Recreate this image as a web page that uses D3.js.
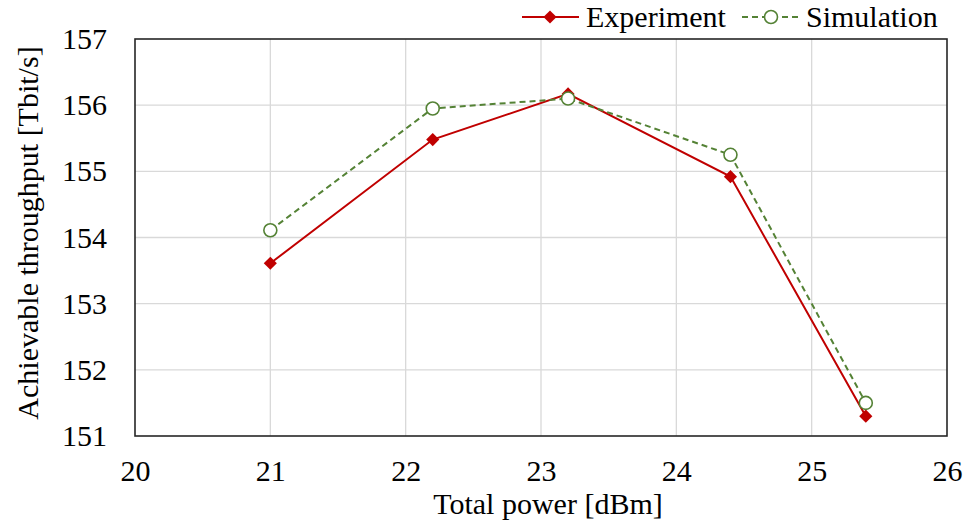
<!DOCTYPE html>
<html><head><meta charset="utf-8">
<script src="https://cdn.jsdelivr.net/npm/d3@7"></script>
<style>body{margin:0;background:#fff}svg{display:block}svg text{font-family:"Liberation Serif","Times New Roman",Times,serif !important;fill:#000}</style>
</head><body><svg id="c" width="964" height="524"></svg>
<script>
const power = [21, 22.2, 23.2, 24.4, 25.4];
const experiment = [153.61, 155.48, 156.17, 154.92, 151.30];
const simulation = [154.11, 155.95, 156.10, 155.25, 151.50];
const xTicks = [20, 21, 22, 23, 24, 25, 26];
const yTicks = [151, 152, 153, 154, 155, 156, 157];

const FS = 30;
const svg = d3.select("#c");
const L = 135, R = 947, T = 39, B = 436;
const x = d3.scaleLinear().domain([20, 26]).range([L, R]);
const y = d3.scaleLinear().domain([151, 157]).range([B, T]);

svg.append("g").selectAll("line").data(xTicks.slice(1, -1)).join("line")
  .attr("x1", d => x(d)).attr("x2", d => x(d)).attr("y1", T).attr("y2", B)
  .attr("stroke", "#d9d9d9").attr("stroke-width", 1.3);
svg.append("g").selectAll("line").data(yTicks.slice(1, -1)).join("line")
  .attr("y1", d => y(d)).attr("y2", d => y(d)).attr("x1", L).attr("x2", R)
  .attr("stroke", "#d9d9d9").attr("stroke-width", 1.3);

svg.append("rect").attr("x", L).attr("y", T).attr("width", R - L).attr("height", B - T)
  .attr("fill", "none").attr("stroke", "#262626").attr("stroke-width", 1.6);

const xAxis = d3.axisBottom(x).tickValues(xTicks).tickSize(0).tickPadding(24).tickFormat(d3.format("d"));
const gx = svg.append("g").attr("transform", `translate(0,${B})`).call(xAxis);
gx.select(".domain").remove();
gx.attr("font-size", FS);
gx.selectAll("text").style("font-size", FS + "px");
const yAxis = d3.axisLeft(y).tickValues(yTicks).tickSize(0).tickPadding(28).tickFormat(d3.format("d"));
const gy = svg.append("g").attr("transform", `translate(${L},0)`).call(yAxis);
gy.select(".domain").remove();
gy.attr("font-size", FS);
gy.selectAll("text").style("font-size", FS + "px");

svg.append("text").attr("x", 548).attr("y", 514).attr("text-anchor", "middle")
  .style("font-size", FS + "px").text("Total power [dBm]");
svg.append("text").attr("transform", `translate(38,233) rotate(-90)`).attr("text-anchor", "middle")
  .style("font-size", FS + "px").text("Achievable throughput [Tbit/s]");

const red = "#c00000", green = "#548235";
const diamond = d3.symbol().type(d3.symbolDiamond2).size(110);

const line = d3.line().x((d, i) => x(power[i])).y(d => y(d));
svg.append("path").datum(experiment).attr("d", line).attr("fill", "none").attr("stroke", red).attr("stroke-width", 2);
svg.append("path").datum(simulation).attr("d", line).attr("fill", "none").attr("stroke", green)
  .attr("stroke-width", 2).attr("stroke-dasharray", "6,4");

svg.append("g").selectAll("path").data(experiment).join("path")
  .attr("d", diamond).attr("transform", (d, i) => `translate(${x(power[i])},${y(d)})`).attr("fill", red);
svg.append("g").selectAll("circle").data(simulation).join("circle")
  .attr("cx", (d, i) => x(power[i])).attr("cy", d => y(d)).attr("r", 6.5)
  .attr("fill", "#fff").attr("stroke", green).attr("stroke-width", 1.6);

const lg = svg.append("g");
lg.append("line").attr("x1", 522).attr("x2", 579).attr("y1", 17).attr("y2", 17).attr("stroke", red).attr("stroke-width", 2);
lg.append("path").attr("d", diamond).attr("transform", "translate(550,17)").attr("fill", red);
lg.append("text").attr("x", 586).attr("y", 27).style("font-size", FS + "px").text("Experiment");
lg.append("line").attr("x1", 742).attr("x2", 799).attr("y1", 17).attr("y2", 17).attr("stroke", green)
  .attr("stroke-width", 2).attr("stroke-dasharray", "6,4");
lg.append("circle").attr("cx", 771).attr("cy", 17).attr("r", 6.5).attr("fill", "#fff").attr("stroke", green).attr("stroke-width", 1.6);
lg.append("text").attr("x", 806).attr("y", 27).style("font-size", FS + "px").text("Simulation");
</script></body></html>
